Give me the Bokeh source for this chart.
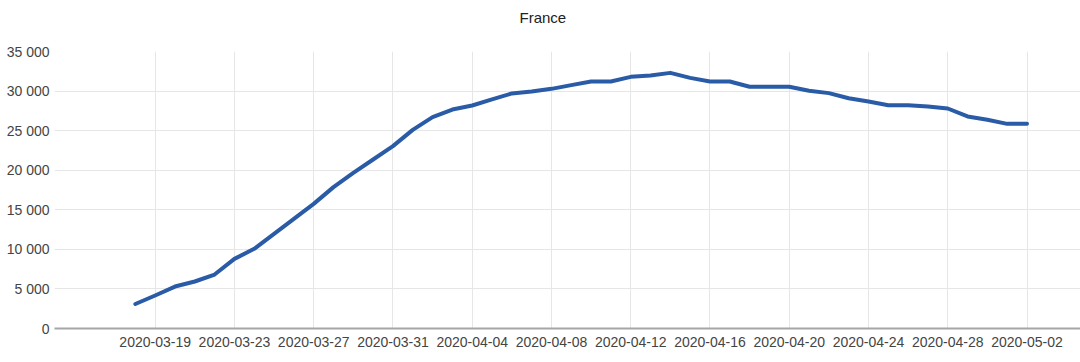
from datetime import datetime, timedelta
from bokeh.plotting import figure
from bokeh.models import FixedTicker, ColumnDataSource, Range1d, Title
from bokeh.embed import file_html
from bokeh.resources import INLINE

title_text = "France"
start_date = "2020-03-18"
values = [3100, 4170, 5300, 5940, 6820, 8800, 10070, 11960, 13860, 15750,
          17860, 19670, 21350, 23040, 25100, 26700, 27670, 28180, 28940, 29700,
          29950, 30280, 30750, 31210, 31210, 31800, 31970, 32300, 31670, 31210,
          31210, 30540, 30540, 30540, 30030, 29740, 29100, 28680, 28220, 28220,
          28050, 27800, 26790, 26370, 25860, 25860]
x_tick_labels = ["2020-03-19", "2020-03-23", "2020-03-27", "2020-03-31", "2020-04-04",
                 "2020-04-08", "2020-04-12", "2020-04-16", "2020-04-20", "2020-04-24",
                 "2020-04-28", "2020-05-02"]
y_ticks = [0, 5000, 10000, 15000, 20000, 25000, 30000, 35000]
y_tick_labels = ["0", "5 000", "10 000", "15 000", "20 000", "25 000", "30 000", "35 000"]

def ms(d):
    return d.timestamp() * 1000.0

d0 = datetime.strptime(start_date, "%Y-%m-%d")
dates = [d0 + timedelta(days=i) for i in range(len(values))]
src = ColumnDataSource(dict(x=[ms(d) for d in dates], y=values))

day = 86400000.0
first_tick = ms(datetime.strptime(x_tick_labels[0], "%Y-%m-%d"))
last_tick = ms(datetime.strptime(x_tick_labels[-1], "%Y-%m-%d"))
x0 = first_tick - 5.08 * day
x1 = last_tick + 2.7 * day

p = figure(width=1080, height=362, output_backend="svg", toolbar_location=None,
           x_range=Range1d(x0, x1),
           y_range=Range1d(0, 35000),
           min_border_left=54, min_border_right=0, min_border_top=51,
           min_border_bottom=34)

p.line("x", "y", source=src, line_color="#2a5ba6", line_width=4,
       line_join="round", line_cap="round")

tick_ms = [ms(datetime.strptime(t, "%Y-%m-%d")) for t in x_tick_labels]
p.xaxis.ticker = FixedTicker(ticks=tick_ms)
p.xaxis.major_label_overrides = {t: l for t, l in zip(tick_ms, x_tick_labels)}
p.yaxis.ticker = FixedTicker(ticks=y_ticks)
p.yaxis.major_label_overrides = {t: l for t, l in zip(y_ticks, y_tick_labels)}

for ax in (p.xaxis, p.yaxis):
    ax.major_tick_line_color = None
    ax.minor_tick_line_color = None
    ax.major_tick_out = 0
    ax.major_tick_in = 0
    ax.minor_tick_out = 0
    ax.minor_tick_in = 0
    ax.major_label_text_font = "Liberation Sans"
    ax.major_label_text_font_size = "14px"
    ax.major_label_text_color = "#444444"
p.xaxis.axis_line_color = "#a6a6a6"
p.xaxis.axis_line_width = 2
p.xaxis.major_label_standoff = 8
p.yaxis.axis_line_color = None
p.yaxis.major_label_standoff = 5

p.xgrid.grid_line_color = "#e6e6e6"
p.ygrid.grid_line_color = "#e6e6e6"
p.outline_line_color = None
p.background_fill_color = "white"
p.border_fill_color = "white"

# spacer panel between the title and the frame
p.add_layout(Title(text=" ", text_font_size="1px", standoff=21), "above")

p.title.text = title_text
p.title.align = "left"
p.title.offset = 465
p.title.standoff = 4
p.title.text_font = "Liberation Sans"
p.title.text_font_size = "15px"
p.title.text_font_style = "normal"
p.title.text_color = "#222222"

open("out.html", "w").write(file_html(p, INLINE))
